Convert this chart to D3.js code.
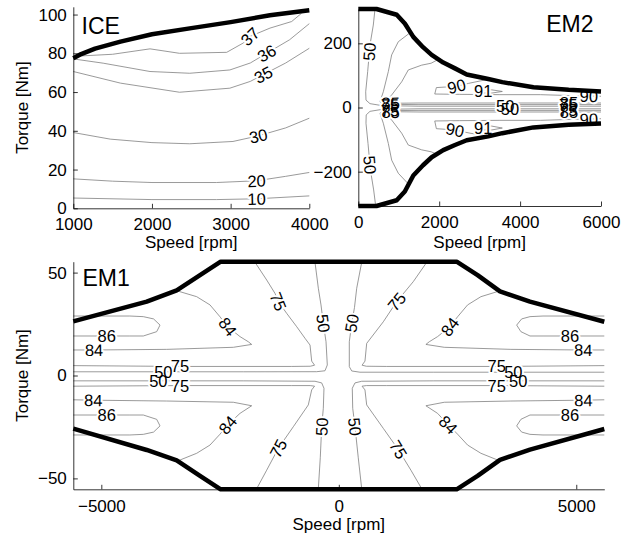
<!DOCTYPE html>
<html><head><meta charset="utf-8">
<script src="https://cdn.jsdelivr.net/npm/d3@7"></script>
<style>
body{margin:0;background:#fff}
text{font-family:"Liberation Sans",Arial,Helvetica,sans-serif;fill:#000}
</style>
</head><body>
<svg id="c" width="632" height="536"></svg>
<script>
// ---------- tick values ----------
const iceXTicks = [1000, 2000, 3000, 4000];
const iceYTicks = [0, 20, 40, 60, 80, 100];
const em2XTicks = [0, 2000, 4000, 6000];
const em2YTicks = [-200, 0, 200];
const em1XTicks = [-5000, 0, 5000];
const em1YTicks = [-50, 0, 50];

// ---------- ICE (speed rpm, torque Nm) ----------
const iceBoundary = [[1000,77.4],[1100,79.6],[1276,82.4],[1600,86],[2000,89.8],[2500,93],[3000,96.1],[3500,99.6],[4000,102.2]];
const iceContours = [
  [37, [[1030,78.5],[1500,79.5],[1975,82.3],[2350,80],[2950,80.5],[3160,85.3],[3246,88.7],[3500,93],[3776,96.4],[3900,100.6]]],
  [36, [[1000,77.1],[1380,74.9],[1975,70.6],[2480,69.7],[2990,71.4],[3250,75],[3458,80],[3750,87],[4000,95.3]]],
  [35, [[1000,70.6],[1600,64.6],[2350,59.9],[2990,62],[3250,65.5],[3415,69],[3700,75],[4000,82.6]]],
  [30, [[1000,39.1],[1470,35.7],[2000,33.9],[2480,33.3],[3030,34.5],[3352,37.4],[3700,41.5],[4000,46.5]]],
  [20, [[1000,15.2],[1500,14],[2000,13.3],[2820,13.3],[3330,14.2],[3700,16.5],[4000,18.5]]],
  [10, [[1000,5.3],[2000,4.5],[2820,4.5],[3330,4.9],[4000,6.4]]]
];
const iceLabels = [[37,3246,88.7],[36,3458,80],[35,3415,69],[30,3352,37.4],[20,3330,14.2],[10,3330,4.9]];

// ---------- EM2 ----------
const em2BoundaryTop = [[0,307],[450,307],[950,289],[1150,262],[1360,220],[1600,188],[1814,164],[2100,140],[2390,122],[2680,103],[3214,89],[3560,79],[4330,63],[5200,55],[6000,50]];
const em2BoundaryBottom = [[0,-307],[450,-307],[950,-289],[1150,-262],[1360,-212],[1600,-180],[1814,-155],[2100,-133],[2390,-117],[2680,-102],[3214,-90],[3560,-80],[4330,-62],[5200,-54],[6000,-50]];
const em2Contours = [
  [50, [[413,307],[371,257],[289,195],[232,112],[183,49],[190,23],[289,12],[578,6],[1500,4],[6000,4]]],
  [75, [[1290,234],[989,205],[825,164],[742,112],[618,49],[536,18],[618,10],[1500,9],[6000,9]]],
  [85, [[1980,150],[1800,138],[1567,132],[1236,117],[1072,80],[825,39],[660,18],[742,13],[1500,14],[6000,14]]],
  [90, [[3214,88],[2720,75],[2430,66],[1930,62],[1890,42],[2500,41],[3500,40],[4500,40],[5300,37],[6000,35]]],
  [91, [[2900,45],[3300,45],[3560,50],[3300,55],[2900,55],[2880,50],[2900,45]]],
  [50, [[430,-307],[380,-257],[300,-195],[240,-112],[190,-49],[195,-23],[289,-12],[578,-6],[1500,-4],[6000,-4]]],
  [75, [[1250,-240],[989,-205],[825,-164],[742,-112],[618,-49],[536,-18],[618,-10],[1500,-9],[6000,-9]]],
  [85, [[1950,-146],[1800,-138],[1567,-132],[1236,-117],[1072,-80],[825,-39],[660,-18],[742,-13],[1500,-14],[6000,-14]]],
  [90, [[3214,-89],[2760,-80],[2390,-70],[1930,-66],[1890,-42],[2500,-41],[3500,-40],[4500,-40],[5300,-37],[6000,-35]]],
  [91, [[2900,-58],[3300,-58],[3560,-64],[3300,-70],[2900,-70],[2880,-64],[2900,-58]]]
];
const em2Labels = [[50,272,174],[50,289,-179],[85,800,14],[75,780,9],[75,780,-9],[85,800,-14],
  [85,5210,14],[75,5190,9],[75,5190,-9],[85,5210,-14],[50,3630,4],[50,3750,-4],
  [90,2430,66],[90,2390,-70],[90,5700,36],[90,5700,-36],[91,3090,50],[91,3090,-64]];

// ---------- EM1 ----------
const em1BoundaryTop = [[-5590,26.3],[-4044,35.9],[-3413,41.4],[-2922,48.8],[-2487,55.3],[2482,55.3],[2922,48.8],[3394,40.9],[4025,35.9],[5590,26.1]];
const em1BoundaryBottom = [[-5590,-25.8],[-4044,-36.2],[-3413,-41.2],[-2922,-48.8],[-2487,-55.3],[2482,-55.3],[2922,-48.8],[3394,-41],[4025,-36],[5590,-26]];
const em1Contours = [
  [86, [[-5590,28.9],[-4400,28.9],[-4116,28.6],[-3900,27.5],[-3764,24.5],[-3834,21.3],[-4116,19.2],[-4400,19.2],[-5590,19.2]]],
  [86, [[5590,28.9],[4300,28.9],[4025,28.6],[3850,27.5],[3745,24.5],[3834,21.3],[4025,19.2],[4300,19.2],[5590,19.2]]],
  [86, [[-5590,-19.2],[-4400,-19.2],[-4116,-19.2],[-3834,-21.3],[-3764,-24.5],[-3900,-27.5],[-4116,-28.6],[-4400,-28.9],[-5590,-28.9]]],
  [86, [[5590,-19.2],[4300,-19.2],[4025,-19.2],[3834,-21.3],[3745,-24.5],[3850,-27.5],[4025,-28.6],[4300,-28.9],[5590,-28.9]]],
  [84, [[-3413,41.2],[-2992,38.3],[-2712,34.3],[-2500,28.5],[-2339,23.7],[-2080,18.9],[-1905,16.4],[-1834,15.1],[-2221,13.7],[-3623,12.7],[-5154,12.4],[-5590,12.4]]],
  [84, [[3400,41.2],[2992,38.3],[2712,34.3],[2500,28.5],[2339,23.7],[2080,18.9],[1905,16.4],[1834,15.1],[2221,13.7],[3623,12.7],[5148,12.4],[5590,12.4]]],
  [84, [[-3379,-41.4],[-2992,-37.8],[-2712,-33.8],[-2500,-28.5],[-2339,-24],[-2080,-18.4],[-1834,-14.7],[-2221,-13],[-3623,-12.4],[-5168,-12],[-5590,-11.8]]],
  [84, [[3379,-41.4],[2992,-37.8],[2712,-33.8],[2500,-28.5],[2305,-24],[2080,-18.4],[1834,-14.7],[2221,-13],[3623,-12.4],[5148,-12],[5590,-11.8]]],
  [75, [[-1764,55],[-1518,46.4],[-1343,39.9],[-1274,35.9],[-1097,30.2],[-886,23.7],[-712,18.1],[-606,14.8],[-571,7],[-510,5.0],[-600,4.5],[-1000,4.4],[-3343,4.4],[-5590,4.8]]],
  [75, [[1851,55],[1568,45.6],[1219,35.9],[937,26.1],[587,15.6],[551,7],[490,5.0],[580,4.5],[1000,4.4],[3324,4.4],[5590,4.8]]],
  [75, [[-1729,-55],[-1518,-46],[-1274,-35.4],[-958,-24.9],[-642,-14.3],[-571,-7],[-510,-5.2],[-600,-4.9],[-1000,-4.9],[-3343,-4.9],[-5590,-5.2]]],
  [75, [[1745,-55],[1518,-46],[1253,-36],[937,-25.7],[587,-14.3],[551,-7],[490,-5.2],[580,-4.9],[1000,-4.9],[3324,-4.9],[5590,-5.2]]],
  [50, [[-501,55],[-431,42.4],[-375,34.3],[-326,25.4],[-269,16.4],[-242,5.1],[-291,2.3],[-466,1.85],[-2000,1.8],[-5590,1.8]]],
  [50, [[482,55],[377,42.4],[330,33],[272,25.4],[221,16.4],[221,4.3],[272,2.2],[446,1.6],[2000,1.6],[5590,1.6]]],
  [50, [[-431,-55],[-390,-40],[-360,-24.9],[-326,-15.9],[-312,-6.2],[-360,-3.6],[-501,-2.8],[-2000,-2.6],[-5590,-2.6]]],
  [50, [[482,-55],[410,-40],[341,-24.9],[293,-15.9],[284,-6.2],[341,-3.6],[482,-2.8],[2000,-2.6],[5590,-2.6]]]
];
const em1Labels = [
  [86,-4886,19.2],[86,4867,19.2],[86,-4886,-19.2],[86,4867,-19.2],
  [84,-2339,23.7],[84,2339,23.7],[84,-5154,12.4],[84,5148,12.4],[84,-2339,-24],[84,2305,-24],[84,-5168,-12],[84,5148,-12],
  [75,-1274,35.9],[75,1219,35.9],[75,-1274,-35.4],[75,1253,-36],[75,-3343,4.4],[75,3324,4.4],[75,-3343,-4.9],[75,3324,-4.9],
  [50,-326,25.4],[50,272,25.4],[50,-360,-24.9],[50,341,-24.9],[50,-3695,1.8],[50,3674,1.6],[50,-3800,-2.6],[50,3779,-2.6]
];

// ---------- drawing ----------
const svg = d3.select("#c");
const fmt = d => d < 0 ? "\u2212" + Math.abs(d) : String(d);

function addLabels(g, labels, contours, x, y) {
  const items = labels.map(([lev, sx, sy]) => {
    const px = x(sx), py = y(sy);
    let best = Infinity, ang = 0;
    contours.filter(c => c[0] === lev).forEach(c => {
      const pts = c[1].map(p => [x(p[0]), y(p[1])]);
      for (let i = 0; i < pts.length - 1; i++) {
        const [ax, ay] = pts[i], [bx, by] = pts[i + 1];
        const dx = bx - ax, dy = by - ay, L = dx * dx + dy * dy;
        let t = L ? ((px - ax) * dx + (py - ay) * dy) / L : 0;
        t = Math.max(0, Math.min(1, t));
        const qx = ax + t * dx - px, qy = ay + t * dy - py, d = qx * qx + qy * qy;
        if (d < best) { best = d; ang = Math.atan2(dy, dx) * 180 / Math.PI; }
      }
    });
    if (ang > 90) ang -= 180;
    if (ang <= -90) ang += 180;
    return {lev, px, py, ang};
  });
  const mk = (sel) => sel.selectAll("text").data(items).join("text")
    .attr("transform", d => `translate(${d.px},${d.py}) rotate(${d.ang})`)
    .attr("text-anchor", "middle").attr("dy", "0.36em")
    .attr("font-size", 16.5).text(d => d.lev);
  mk(g.append("g")).style("fill", "#fff").attr("stroke", "#fff").attr("stroke-width", 4).attr("stroke-linejoin", "round");
  mk(g.append("g"));
}

function panel(o) {
  const x = d3.scaleLinear().domain(o.xd).range(o.xr);
  const y = d3.scaleLinear().domain(o.yd).range(o.yr);
  const g = svg.append("g");
  const line = d3.line().x(d => x(d[0])).y(d => y(d[1]));
  g.append("g").selectAll("path").data(o.contours).join("path")
    .attr("d", d => line(d[1])).attr("fill", "none")
    .attr("stroke", "#808080").attr("stroke-width", 0.8).attr("stroke-linejoin", "round");
  addLabels(g, o.labels, o.contours, x, y);
  g.append("g").selectAll("path").data(o.bounds).join("path")
    .attr("d", line).attr("fill", "none").attr("stroke", "#000")
    .attr("stroke-width", 4.5).attr("stroke-linejoin", "round").attr("stroke-linecap", "butt");

  const xa = g.append("g").attr("transform", `translate(0,${o.yr[0]})`)
    .call(d3.axisBottom(x).tickValues(o.xt).tickFormat(fmt).tickSizeInner(-4.5).tickSizeOuter(0).tickPadding(o.xpad));
  const ya = g.append("g").attr("transform", `translate(${o.xr[0]},0)`)
    .call(d3.axisLeft(y).tickValues(o.yt).tickFormat(fmt).tickSizeInner(-4.5).tickSizeOuter(0).tickPadding(6.5));
  [xa, ya].forEach(a => {
    a.attr("font-size", null).attr("font-family", null);
    a.selectAll("text").attr("font-size", 17);
    a.selectAll("path,line").attr("stroke", "#000").attr("stroke-width", 0.8);
  });
  g.append("text").attr("x", (o.xr[0] + o.xr[1]) / 2).attr("y", o.xlabY)
    .attr("text-anchor", "middle").attr("font-size", 17).text("Speed [rpm]");
  if (o.ylab) {
    g.append("text").attr("transform", `translate(28,${(o.yr[0] + o.yr[1]) / 2}) rotate(-90)`)
      .attr("text-anchor", "middle").attr("font-size", 17).text("Torque [Nm]");
  }
  g.append("text").attr("x", o.title[1]).attr("y", o.title[2])
    .attr("text-anchor", o.title[3]).attr("font-size", 23).text(o.title[0]);
}

panel({xd:[1000,4000], xr:[73.3,309.3], yd:[0,104], yr:[208.3,6.8], xt:iceXTicks, yt:iceYTicks,
  contours:iceContours, labels:iceLabels, bounds:[iceBoundary], xpad:10, xlabY:248, ylab:true,
  title:["ICE",81.5,33.5,"start"]});
panel({xd:[0,6000], xr:[358.3,601], yd:[-307,307], yr:[206,9], xt:em2XTicks, yt:em2YTicks,
  contours:em2Contours, labels:em2Labels, bounds:[em2BoundaryTop, em2BoundaryBottom], xpad:10, xlabY:248, ylab:false,
  title:["EM2",593.5,32,"end"]});
panel({xd:[-5590,5590], xr:[73.3,604.3], yd:[-55.3,55.3], yr:[489.3,261.7], xt:em1XTicks, yt:em1YTicks,
  contours:em1Contours, labels:em1Labels, bounds:[em1BoundaryTop, em1BoundaryBottom], xpad:11, xlabY:530, ylab:true,
  title:["EM1",82.5,286,"start"]});
</script>
</body></html>
